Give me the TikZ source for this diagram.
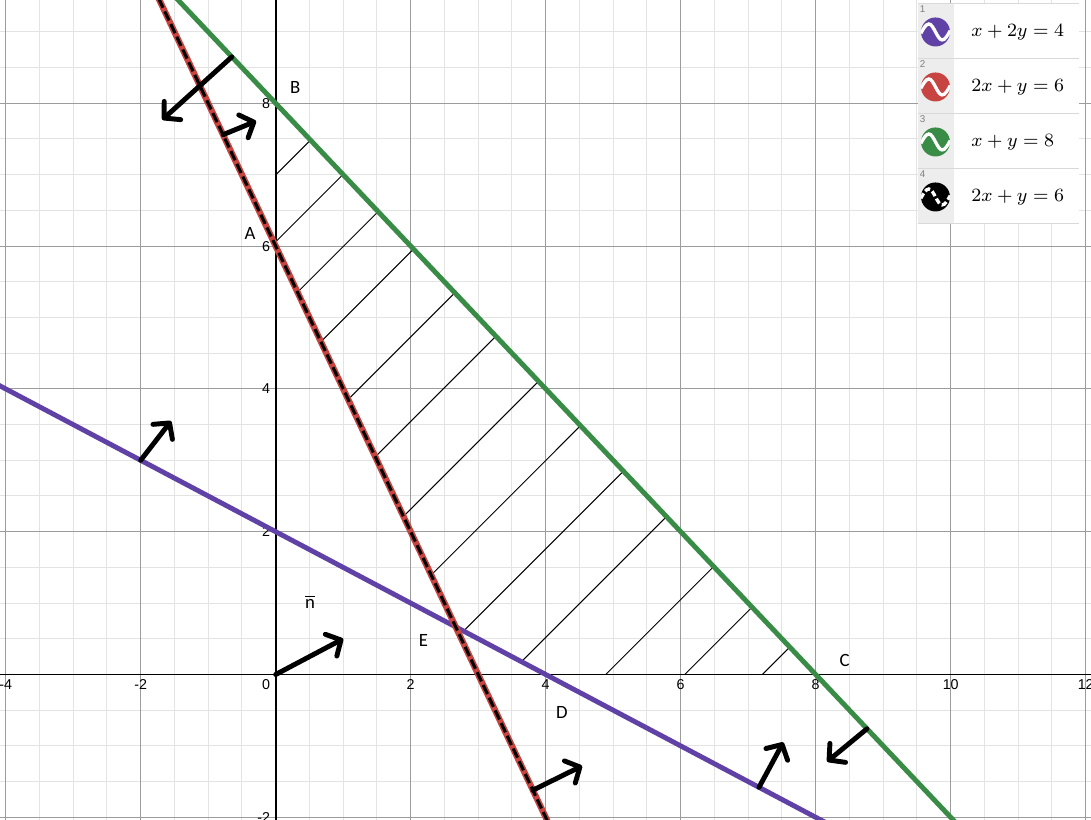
\documentclass[tikz,border=0pt]{standalone}
\usepackage[no-math]{fontspec}
\newfontfamily\ticksf{Liberation Sans}
\newfontfamily\ptsf{Carlito}
\usetikzlibrary{arrows.meta}
\definecolor{dpurple}{HTML}{6042A6}
\definecolor{dred}{HTML}{C74440}
\definecolor{dgreen}{HTML}{388C46}
\definecolor{minorgray}{HTML}{E3E3E3}
\definecolor{majorgray}{HTML}{9C9C9C}
\definecolor{keygray}{HTML}{EDEDED}
\definecolor{rulegray}{HTML}{D9D9D9}
\begin{document}
\begin{tikzpicture}[x=1.0125cm,y=1.071cm,
  ticklabel/.style={font=\ticksf\fontsize{6.1}{7}\selectfont,inner sep=0pt},
  ptlabel/.style={font=\ptsf\fontsize{8}{9}\selectfont,inner sep=0pt},
  eqlabel/.style={font=\fontsize{7.7}{9}\selectfont,inner sep=0pt,anchor=west},
  rowno/.style={font=\ticksf\fontsize{4.2}{5}\selectfont,text=gray,inner sep=0pt,anchor=north west},
  hatch/.style={line width=0.43pt},
  boundary/.style={line width=2.1pt},
  wavefull/.style={},
  wavebroken/.style={dash pattern=on 2.4pt off 1.2pt},
  normvec/.style={line width=2.1pt,line cap=round,-{Straight Barb[length=4.8pt,width=10.5pt,round]}}]
\path[use as bounding box,fill=white] (-4.0844,-2.0378) rectangle (12.0785,9.4468);
\draw[minorgray,line width=0.43pt,step=0.5] (-4.5,-2.5) grid (12.5,10);
\draw[majorgray,line width=0.43pt,step=2] (-6,-4) grid (14,10);
\draw[line width=0.85pt] (-4.5,0) -- (12.5,0) (0,-2.5) -- (0,10);
\foreach \k in {-4,-2,2,4,6,8,10,12}
  \node[ticklabel] (xt\k) at (\k,-0.147) {\k};
\foreach \k in {-2,2,4,6,8}
  \node[ticklabel,anchor=east] (yt\k) at (-0.077,\k) {\k};
\node[ticklabel,anchor=east] (o) at (-0.077,-0.147) {0};
\begin{scope}
\clip (0,8) -- (8,0) -- (4,0) -- (8/3,2/3) -- (0,6) -- cycle;
\foreach \c in {-7.40,-6.41,-5.34,-4.26,-3.00,-1.75,-0.45,0.83,2.14,3.45,4.89,6.06,7.21}
  \draw[hatch] ({\c-10},-9.454) -- ({\c+10},9.454);
\end{scope}
\draw[boundary,dpurple] (-4.5,4.25) -- (9,-2.5);
\draw[boundary,dred,line width=2.7pt] (-2,10) -- (4.5,-3);
\draw[boundary,dgreen] (-2,10) -- (11,-3);
\draw[line width=1.3pt,dash pattern=on 4.3pt off 1.7pt] (-2,10) -- (4.5,-3);
\coordinate (g1) at (-0.65,8.65);
\coordinate (g1t) at (-1.68,7.77);
\coordinate (r1) at (-0.78,7.56);
\coordinate (r1t) at (-0.29,7.75);
\coordinate (p1) at (-2,3);
\coordinate (p1t) at (-1.55,3.55);
\coordinate (n0) at (0,0);
\coordinate (n0t) at (1,0.5);
\coordinate (r2) at (3.81,-1.62);
\coordinate (r2t) at (4.54,-1.28);
\coordinate (p2) at (7.16,-1.58);
\coordinate (p2t) at (7.52,-0.95);
\coordinate (g2) at (8.76,-0.76);
\coordinate (g2t) at (8.17,-1.22);
\draw[normvec] (g1) -- (g1t);
\draw[normvec] (r1) -- (r1t);
\draw[normvec] (p1) -- (p1t);
\draw[normvec] (n0) -- (n0t);
\draw[normvec] (r2) -- (r2t);
\draw[normvec] (p2) -- (p2t);
\draw[normvec] (g2) -- (g2t);
\node[ptlabel] (B) at (0.29,8.22) {B};
\node[ptlabel] (A) at (-0.38,6.18) {A};
\node[ptlabel] (C) at (8.43,0.2) {C};
\node[ptlabel] (D) at (4.24,-0.53) {D};
\node[ptlabel] (E) at (2.19,0.47) {E};
\node[ptlabel] (nbar) at (0.51,1.02) {$\overline{\mbox{n}}$};
\begin{scope}[shift={(9.516,9.401)}]
\fill[white] (0,0) rectangle (2.385,-3.081);
\fill[keygray] (0,0) rectangle (0.533,-3.081);
\foreach \r in {0,...,4}
  \draw[rulegray,line width=0.6pt] (0,-0.7703*\r) -- (2.385,-0.7703*\r);
\foreach \r/\col/\wv in {0/dpurple/wavefull,1/dred/wavefull,2/dgreen/wavefull,3/black/wavebroken}
{
  \begin{scope}[shift={(0.259,-0.402-0.7703*\r)}]
  \fill[\col] (0,0) circle[radius=0.2175cm];
  \clip (0,0) circle[radius=0.2175cm];
  \draw[white,line width=1.4pt,\wv] (-0.22cm,-0.02cm) sin (-0.1cm,0.12cm) cos (0cm,0cm) sin (0.1cm,-0.12cm) cos (0.22cm,0.02cm);
  \end{scope}
  \pgfmathtruncatemacro{\n}{\r+1}
  \node[rowno] (no\n) at (0.02,-0.03-0.7703*\r) {\n};
}
\node[eqlabel] (leg1) at (0.785,-0.402) {$x+2y=4$};
\node[eqlabel] (leg2) at (0.785,-1.172) {$2x+y=6$};
\node[eqlabel] (leg3) at (0.785,-1.943) {$x+y=8$};
\node[eqlabel] (leg4) at (0.785,-2.713) {$2x+y=6$};
\end{scope}
\end{tikzpicture}
\end{document}
